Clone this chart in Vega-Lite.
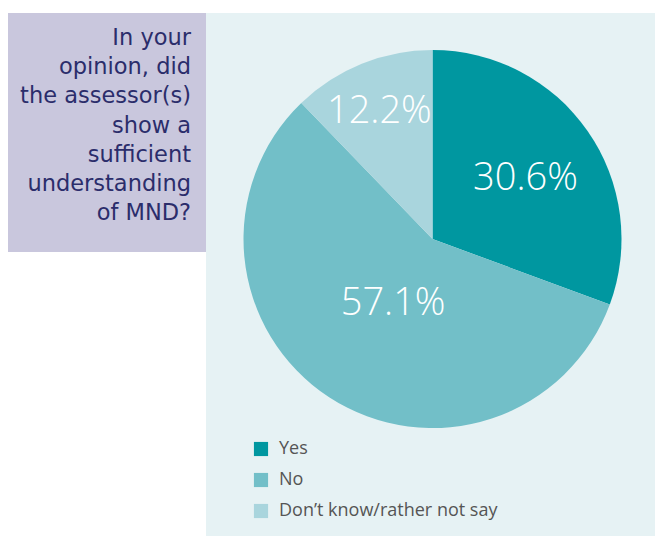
{
  "$schema": "https://vega.github.io/schema/vega-lite/v6.json",
  "padding": {"left": 8, "top": 13, "right": 0, "bottom": 0},
  "background": "white",
  "spacing": 0,
  "bounds": "flush",
  "config": {"view": {"stroke": null}, "concat": {"spacing": 0}},
  "hconcat": [
    {
      "width": 198,
      "height": 239,
      "view": {"fill": "#c9c7dd", "stroke": null},
      "data": {"values": [
        {"line": 0, "text": "In your"},
        {"line": 1, "text": "opinion, did"},
        {"line": 2, "text": "the assessor(s)"},
        {"line": 3, "text": "show a"},
        {"line": 4, "text": "sufficient"},
        {"line": 5, "text": "understanding"},
        {"line": 6, "text": "of MND?"}
      ]},
      "mark": {"type": "text", "align": "right", "baseline": "middle", "font": "DejaVu Sans", "fontSize": 22.5, "color": "#2b2d6b", "dx": -15},
      "encoding": {
        "x": {"value": "width"},
        "y": {"field": "line", "type": "quantitative", "scale": {"domain": [-0.856, 7.329], "reverse": true, "zero": false, "nice": false}, "axis": null},
        "text": {"field": "text"}
      }
    },
    {
      "width": 449,
      "height": 523,
      "view": {"fill": "#e6f2f4", "stroke": null},
      "data": {"values": [
        {"answer": "Yes", "value": 30.6, "label": "30.6%", "order": 1},
        {"answer": "No", "value": 57.1, "label": "57.1%", "order": 2},
        {"answer": "Don’t know/rather not say", "value": 12.2, "label": "12.2%", "order": 3}
      ]},
      "encoding": {
        "theta": {"field": "value", "type": "quantitative", "stack": true},
        "order": {"field": "order", "type": "quantitative"}
      },
      "layer": [
        {
          "mark": {"type": "arc", "outerRadius": 189, "x": 226.5, "y": 226, "stroke": null},
          "encoding": {
            "color": {
              "field": "answer",
              "type": "nominal",
              "scale": {"domain": ["Yes", "No", "Don’t know/rather not say"], "range": ["#0097a0", "#72bfc8", "#a9d5dd"]},
              "legend": {
                "title": null,
                "orient": "none",
                "legendX": 244,
                "legendY": 427,
                "symbolType": "square",
                "symbolSize": 200,
                "symbolStrokeWidth": 0,
                "labelFont": "Open Sans",
                "labelFontSize": 18,
                "labelColor": "#555555",
                "labelOffset": 9,
                "rowPadding": 13,
                "labelLimit": 400
              }
            }
          }
        },
        {
          "mark": {"type": "text", "x": 226.5, "y": 226, "dy": 5, "font": "Open Sans", "fontSize": 38, "fontWeight": 300, "color": "white", "align": "center", "baseline": "middle"},
          "encoding": {
            "radius": {"field": "value", "type": "quantitative", "scale": {"type": "linear", "domain": [12.2, 57.1], "range": [142, 72], "zero": false}},
            "text": {"field": "label"}
          }
        }
      ]
    }
  ]
}
